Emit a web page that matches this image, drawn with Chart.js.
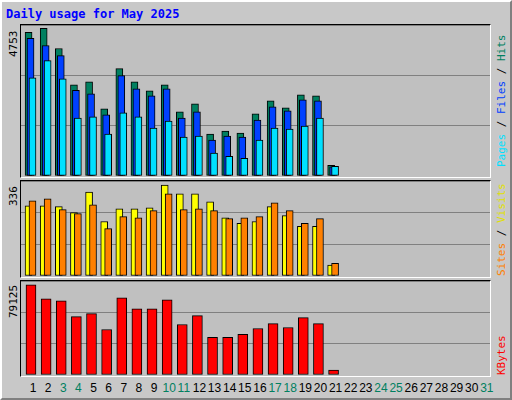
<!DOCTYPE html>
<html><head><meta charset="utf-8">
<script src="https://cdn.jsdelivr.net/npm/chart.js@4/dist/chart.umd.min.js"></script>
<style>
body{margin:0;width:512px;height:400px;overflow:hidden;background:#fff}
#wrap{position:absolute;left:0;top:0;width:508px;height:396px;background:#c8c8c8;border-top:2px solid #fff;border-left:2px solid #fff;border-right:2px solid #808080;border-bottom:2px solid #808080;box-sizing:content-box}
.frame{position:absolute;border-top:1px solid #000;border-left:1px solid #000;border-right:1px solid #fff;border-bottom:1px solid #fff;background:#c0c0c0}
.cv{position:absolute}
.t{position:absolute;font-family:"Liberation Sans";font-size:12px;white-space:nowrap}
.rot{position:absolute;transform-origin:0 0;transform:rotate(-90deg);font-family:"DejaVu Sans Mono";font-size:11px;white-space:nowrap}
</style></head><body>
<div id="wrap"></div>
<div class="t" style="left:6px;top:7px;font-family:'DejaVu Sans Mono';font-weight:bold;color:#0000ff;font-size:12px">Daily usage for May 2025</div>
<div class="frame" style="left:20px;top:24px;width:469px;height:152px"></div>
<div class="frame" style="left:20px;top:180px;width:469px;height:96px"></div>
<div class="frame" style="left:20px;top:280px;width:469px;height:95px"></div>
<div class="cv" style="left:21px;top:25px;width:469px;height:151px"><canvas id="c1"></canvas></div>
<div class="cv" style="left:21px;top:181px;width:469px;height:95px"><canvas id="c2"></canvas></div>
<div class="cv" style="left:21px;top:281px;width:469px;height:94px"><canvas id="c3"></canvas></div>
<div class="rot" style="left:7px;top:57px">4753</div>
<div class="rot" style="left:7px;top:206px">336</div>
<div class="rot" style="left:7px;top:318px">79125</div>
<div class="rot" style="left:495px;top:167px"><span style="color:#00e0ff">Pages</span><span> / </span><span style="color:#0040ff">Files</span><span> / </span><span style="color:#008060">Hits</span></div>
<div class="rot" style="left:495px;top:276px"><span style="color:#ff8000">Sites</span><span> / </span><span style="color:#e0e000">Visits</span></div>
<div class="rot" style="left:495px;top:375px"><span style="color:#ff0000">KBytes</span></div>
<div id="xl"></div>
<script>
const days=[1,2,3,4,5,6,7,8,9,10,11,12,13,14,15,16,17,18,19,20,21];
const xLabels=Array.from({length:31},(_,i)=>String(i+1));
const weekend=[3,4,10,11,17,18,24,25,31];
const hits=[4623,4753,4104,2938,3035,2160,3456,3035,2743,2938,2063,2322,1350,1447,1382,1998,2419,2192,2614,2581,346];
const files=[4428,4201,3877,2754,2646,1966,3229,2808,2581,2808,1868,2063,1156,1285,1253,1804,2225,2095,2452,2419,292];
const pages=[3164,3715,3132,1868,1901,1350,2030,1901,1544,1771,1253,1285,734,637,572,1156,1544,1512,1609,1868,313];
const visits=[259,259,256,234,310,201,248,248,252,336,303,303,274,215,194,201,256,223,183,183,40];
const sites=[277,285,245,230,263,175,219,215,241,303,245,248,241,212,215,219,270,241,194,212,47];
const kbytes=[79125,66950,65210,51300,53900,40000,67820,58250,58250,66080,44340,52170,33040,33040,35650,40860,45210,41730,50430,45210,4350];

const xl=document.getElementById('xl');
xLabels.forEach((l,i)=>{const d=document.createElement('div');d.className='t';d.textContent=l;
d.style.left=(33+15.13*i-(l.length>1?6.7:3.3))+'px';d.style.top='381px';
d.style.color=weekend.includes(i+1)?'#008060':'#000';xl.appendChild(d);});

function ds(vals,off,color,order,w){return{data:vals.map((v,i)=>({x:days[i]+off,y:v})),backgroundColor:color,borderColor:'#000',borderWidth:1,barThickness:w,order:order,grouped:false,borderSkipped:false};}
function mk(id,sets,max){
 new Chart(document.getElementById(id),{type:'bar',data:{datasets:sets},
 options:{responsive:true,maintainAspectRatio:false,animation:false,layout:{padding:0},
 plugins:{legend:{display:false},tooltip:{enabled:false}},
 scales:{x:{type:'linear',min:0.5,max:31.5,offset:false,display:false},
 y:{min:0,max:max,ticks:{display:false,stepSize:max/3},grid:{color:'#808080',lineWidth:1,drawTicks:false},border:{display:false}}}}});
}
mk('c1',[ds(hits,0,'#008060',3,7),ds(files,0.13,'#0040ff',2,7),ds(pages,0.26,'#00e0ff',1,7)],4861);
mk('c2',[ds(visits,0,'#ffff00',2,7),ds(sites,0.26,'#ff8000',1,7)],350.6);
mk('c3',[ds(kbytes,0.16,'#ff0000',1,10)],82600);
</script>
</body></html>
